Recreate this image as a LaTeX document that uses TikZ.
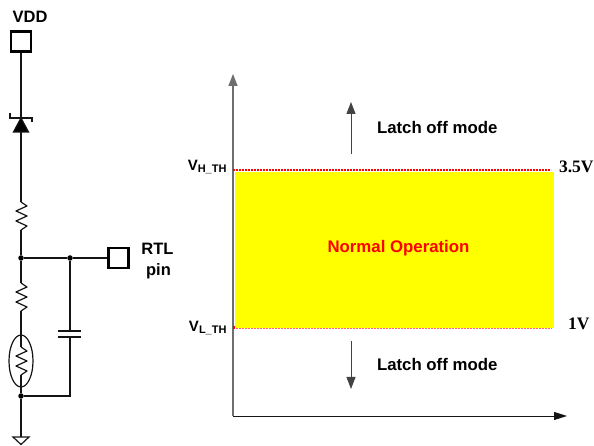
\documentclass[tikz,border=0pt]{standalone}
\usepackage{fontspec}
\setmainfont{Liberation Sans}
\newfontfamily\voltfont{Liberation Serif}
\usetikzlibrary{arrows.meta,shapes.geometric}
\definecolor{axisColor}{RGB}{110,110,110}
\definecolor{fillColor}{RGB}{255,255,0}
\definecolor{limitColor}{RGB}{255,0,0}
\definecolor{wireColor}{RGB}{20,20,20}
\tikzset{
  wire/.style={draw=wireColor,line width=1.2pt},
  pinbox/.style={draw=black,line width=2.4pt,minimum size=20pt,inner sep=0pt,fill=white},
  junction/.style={circle,fill=black,minimum size=5.5pt,inner sep=0pt},
  pinlabel/.style={inner sep=0pt,outer sep=0pt,font=\bfseries\fontsize{16.5}{17}\selectfont},
  modelabel/.style={inner sep=0pt,outer sep=0pt,font=\bfseries\fontsize{16.8}{17}\selectfont},
  voltlabel/.style={inner sep=0pt,outer sep=0pt,font=\voltfont\bfseries\fontsize{17.5}{18}\selectfont},
  thlabel/.style={inner sep=0pt,outer sep=0pt,font=\bfseries\fontsize{15}{16}\selectfont},
  bigtip/.style={-{Triangle[width=9pt,length=12pt]}},
  pics/resistor/.style={code={
    \draw[wire,line join=round] (0,0) -- (6,-4) -- (-5,-9) -- (6,-14) -- (-5,-19) -- (6,-24) -- (0,-28);
  }}
}
\begin{document}
\begin{tikzpicture}[x=1pt,y=1pt]
\path[use as bounding box] (0,0) rectangle (594,446);

% left: circuit
\node[pinlabel] (vddtext) at (30,429.5) {VDD};
\node[pinbox] (vdd) at (21,404.5) {};
\node[pinbox] (rtl) at (118.5,188) {};
\node[pinlabel,anchor=base] (rtltext) at (157.5,191) {RTL};
\node[pinlabel,anchor=base] (pintext) at (158.5,170) {pin};

\coordinate (diodetop) at (21,328);
\coordinate (diodebot) at (21,314);
\coordinate (rupper) at (21,244);
\coordinate (rupperend) at (21,216);
\node[junction] (split) at (21,188) {};
\node[junction] (capnode) at (70,188) {};
\coordinate (rlower) at (21,163);
\coordinate (rlowerend) at (21,135);
\node[draw=wireColor,line width=1.2pt,ellipse,minimum width=24pt,minimum height=52pt,inner sep=0pt] (therm) at (21,85) {};
\coordinate (rtherm) at (21,99);
\coordinate (rthermend) at (21,71);
\node[junction] (botnode) at (21,50) {};
\coordinate (capbot) at (70,50);
\coordinate (plateup) at (70,115);
\coordinate (platedown) at (70,109);
\coordinate (gnd) at (21,9);

\draw[wire] (vdd.south) -- (diodetop);
\draw[wire,fill=black] (diodetop) -- (13.5,314) -- (28.5,314) -- cycle;
\draw[wire] (10,333) -- (10,328) -- (32,328) -- (32,324);
\draw[wire] (diodebot) -- (rupper);
\path (rupper) pic {resistor};
\draw[wire] (rupperend) -- (split);
\draw[wire] (split) -- (capnode) -- (rtl.west);
\draw[wire] (split) -- (rlower);
\path (rlower) pic {resistor};
\draw[wire] (rlowerend) -- (therm.north);
\draw[wire] (therm.north) -- (rtherm);
\path (rtherm) pic {resistor};
\draw[wire] (rthermend) -- (botnode);
\draw[wire] (capnode) -- (plateup);
\draw[wire,line width=1.6pt] (58,115) -- (81,115);
\draw[wire,line width=1.6pt] (58,109) -- (81,109);
\draw[wire] (platedown) -- (capbot) -- (botnode);
\draw[wire] (botnode) -- (gnd);
\draw[wire] (gnd) ++(-8,0) -- ++(16,0) -- (21,1.5) -- cycle;

% right: window
\path[fill=fillColor] (235,118) rectangle (553.5,274);
\coordinate (origin) at (233,30);
\coordinate (ytop) at (233,372);
\coordinate (xend) at (567,30);
\draw[draw=axisColor,line width=1.4pt,bigtip] (origin) -- (ytop);
\draw[draw=wireColor,line width=0.9pt,-{Triangle[width=8pt,length=13pt]}] (origin) -- (xend);
\coordinate (hleft) at (233,276);
\coordinate (hright) at (551,276);
\coordinate (lleft) at (233,118);
\coordinate (lright) at (552,118);
\draw[draw=limitColor,line width=1.2pt,dash pattern=on 2pt off 1pt] (hleft) -- (hright);
\draw[draw=limitColor!60,line width=0.7pt,dash pattern=on 2pt off 1pt] (lleft) -- (lright);
\fill[limitColor] (232.5,117) rectangle (235,119.5);

\coordinate (upfrom) at (351,292);
\coordinate (upto) at (351,344);
\coordinate (downfrom) at (351,105);
\coordinate (downto) at (351,57);
\draw[draw=wireColor!80,line width=1pt,bigtip] (upfrom) -- (upto);
\draw[draw=wireColor!80,line width=1pt,bigtip] (downfrom) -- (downto);

\node[modelabel,anchor=base west] (latchup) at (377,312) {Latch off mode};
\node[modelabel,anchor=base west] (latchdown) at (377,75) {Latch off mode};
\node[modelabel,anchor=base,text=limitColor] (normal) at (398.5,193) {Normal Operation};

\node[thlabel,anchor=base east] (vhth) at (226.5,275) {V\raisebox{-1.7pt}{\fontsize{11}{12}\selectfont H\_TH}};
\node[thlabel,anchor=base east] (vlth) at (226.5,114) {V\raisebox{-1.7pt}{\fontsize{11}{12}\selectfont L\_TH}};
\node[voltlabel,anchor=west] (vhigh) at (559,279) {3.5V};
\node[voltlabel,anchor=west] (vlow) at (568,122) {1V};
\end{tikzpicture}
\end{document}
